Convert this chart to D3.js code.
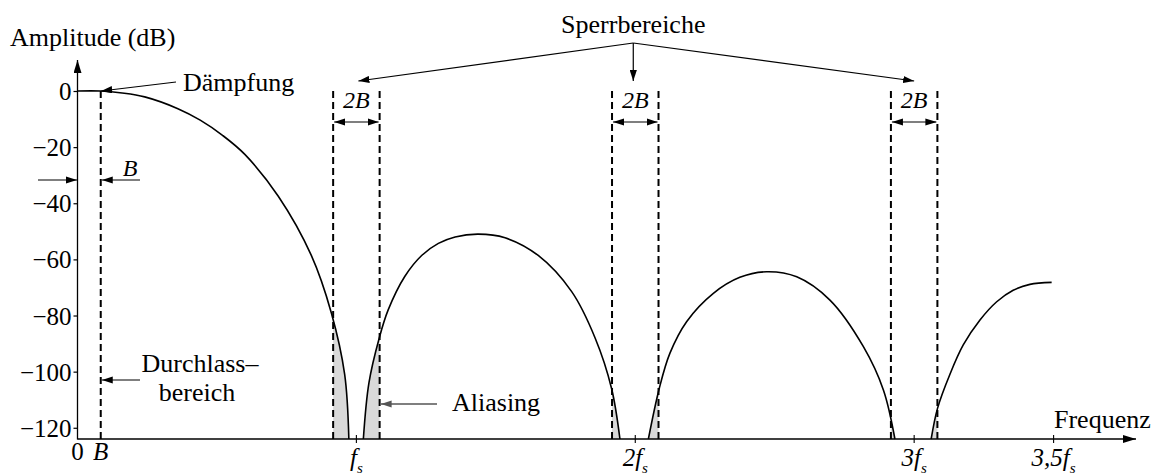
<!DOCTYPE html>
<html>
<head>
<meta charset="utf-8">
<script src="https://cdn.jsdelivr.net/npm/d3@7"></script>
<style>
  html, body { margin: 0; padding: 0; background: #fff; }
  svg { display: block; font-family: "Liberation Serif", "Times New Roman", serif; }
</style>
</head>
<body>
<svg id="chart" width="1159" height="476"></svg>
<script>
// Frequency is given in multiples of the sampling rate fs, amplitude in dB.
const bandwidth = 1 / 12;                 // B relative to fs
const stopCentres = [1, 2, 3];            // stop bands lie at k·fs ± B
const yTicks = [0, -20, -40, -60, -80, -100, -120];
const xTickValues = [0, bandwidth, 1, 2, 3, 3.5];
const xTickMain = ["0", "B", "f", "2f", "3f", "3,5f"];
const xTickSub = ["", "", "s", "s", "s", "s"];
const xTickItalic = [false, true, true, true, true, true];

// Filter magnitude response, one array per lobe: [f / fs, dB]
const lobePass = [[0, 0], [0.0833, 0], [0.16, -0.7], [0.241, -2.1], [0.36, -6.3], [0.44, -10.4],
  [0.52, -15.8], [0.6, -22.6], [0.72, -37.5], [0.838, -58.5], [0.91, -79], [0.958, -101], [0.973, -124]];
const lobeSecond = [[1.025, -124], [1.045, -104], [1.082, -88], [1.114, -78], [1.174, -66], [1.234, -58.6],
  [1.294, -54.3], [1.354, -52], [1.437, -51], [1.533, -52.3], [1.652, -58.6], [1.772, -71.5],
  [1.856, -88], [1.915, -106], [1.945, -124]];
const lobeThird = [[2.047, -124], [2.086, -106], [2.124, -93.5], [2.184, -82.2], [2.28, -72.1],
  [2.375, -66.4], [2.471, -64.4], [2.579, -66.2], [2.698, -74.5], [2.818, -91.1], [2.89, -106.6],
  [2.931, -124]];
const lobeFourth = [[3.061, -124], [3.084, -113], [3.128, -101], [3.176, -90.5], [3.236, -81.6],
  [3.296, -75.1], [3.355, -71], [3.415, -68.9], [3.493, -68.2]];
const lobes = [lobePass, lobeSecond, lobeThird, lobeFourth];

const svg = d3.select("#chart");
const floorDb = -124;
const x = d3.scaleLinear().domain([0, 3.5]).range([77.5, 1053.6]);
const y = d3.scaleLinear().domain([floorDb, 0]).range([439, 91]);
const x0 = x(0), yBase = y(floorDb);
const smooth = d3.curveCatmullRom.alpha(0.5);

// arrowheads
const defs = svg.append("defs");
function marker(id, len, half, color) {
  defs.append("marker")
    .attr("id", id).attr("markerUnits", "userSpaceOnUse")
    .attr("viewBox", `${-len} ${-half} ${len} ${half * 2}`)
    .attr("markerWidth", len).attr("markerHeight", half * 2)
    .attr("refX", 0).attr("refY", 0).attr("orient", "auto-start-reverse")
    .append("path").attr("d", `M0,0L${-len},${-half}L${-len},${half}Z`).attr("fill", color);
}
marker("axisHead", 13, 4, "#000");
marker("head", 11, 3.6, "#000");
marker("greyHead", 11, 3.6, "#555");

// aliasing shading: area under each lobe, clipped to the stop bands
stopCentres.forEach((k, i) => {
  defs.append("clipPath").attr("id", "band" + i)
    .append("rect")
    .attr("x", x(k - bandwidth)).attr("y", 0)
    .attr("width", x(k + bandwidth) - x(k - bandwidth)).attr("height", yBase);
});
const area = d3.area().x(d => x(d[0])).y0(yBase).y1(d => y(d[1])).curve(smooth);
stopCentres.forEach((k, i) => {
  svg.append("g").attr("clip-path", `url(#band${i})`)
    .selectAll("path").data(lobes).join("path")
    .attr("d", area).attr("fill", "#d9d9d9");
});

// y axis
const yAxis = svg.append("g").attr("transform", `translate(${x0},0)`)
  .call(d3.axisLeft(y).tickValues(yTicks).tickSize(4).tickPadding(2)
    .tickFormat(d => d === 0 ? "0" : "\u2212" + Math.abs(d)));
yAxis.select(".domain").remove();
yAxis.selectAll(".tick line").attr("stroke", "#000").attr("stroke-width", 1.2);
yAxis.selectAll(".tick text").attr("font-size", 25).attr("fill", "#000")
  .attr("font-family", "Liberation Serif, serif").attr("dy", "0.34em");
svg.append("line").attr("x1", x0).attr("y1", yBase + 0.6).attr("x2", x0).attr("y2", 60)
  .attr("stroke", "#000").attr("stroke-width", 1.3).attr("marker-end", "url(#axisHead)");

// x axis
svg.append("line").attr("x1", x0).attr("y1", yBase).attr("x2", 1136).attr("y2", yBase)
  .attr("stroke", "#000").attr("stroke-width", 1.3).attr("marker-end", "url(#axisHead)");
const xt = svg.append("g").selectAll("g").data(xTickValues).join("g")
  .attr("transform", d => `translate(${x(d)},${yBase})`);
xt.filter(d => d >= 1).append("line")
  .attr("y1", -4).attr("y2", 4).attr("stroke", "#000").attr("stroke-width", 1.1);
const xtText = xt.append("text").attr("text-anchor", "middle").attr("y", 21).attr("font-size", 25);
xtText.append("tspan").text((d, i) => xTickMain[i])
  .attr("font-style", (d, i) => xTickItalic[i] ? "italic" : "normal");
xtText.filter((d, i) => xTickSub[i] !== "").append("tspan")
  .text((d, i) => "s").attr("font-style", "italic").attr("font-size", 15).attr("dy", 7);
xtText.filter(d => d >= 1).attr("y", 27);

svg.append("text").attr("x", 1054).attr("y", 428).attr("font-size", 26).text("Frequenz");
svg.append("text").attr("x", 10).attr("y", 46).attr("font-size", 26).text("Amplitude (dB)");

// response curve
const line = d3.line().x(d => x(d[0])).y(d => y(d[1])).curve(smooth);
svg.append("g").selectAll("path").data(lobes).join("path")
  .attr("d", line).attr("fill", "none").attr("stroke", "#000").attr("stroke-width", 1.6);

// passband and stop band edges
const dash = "7,4";
svg.append("line").attr("x1", x(bandwidth)).attr("x2", x(bandwidth))
  .attr("y1", y(0)).attr("y2", yBase + 4)
  .attr("stroke", "#000").attr("stroke-width", 2).attr("stroke-dasharray", dash);
const bands = svg.append("g").selectAll("g").data(stopCentres).join("g");
[-1, 1].forEach(side => {
  bands.append("line")
    .attr("x1", k => x(k + side * bandwidth)).attr("x2", k => x(k + side * bandwidth))
    .attr("y1", y(0)).attr("y2", yBase)
    .attr("stroke", "#000").attr("stroke-width", 2).attr("stroke-dasharray", dash);
});
bands.append("line")
  .attr("x1", k => x(k - bandwidth) + 1).attr("x2", k => x(k + bandwidth) - 1)
  .attr("y1", 122).attr("y2", 122)
  .attr("stroke", "#000").attr("stroke-width", 1.2)
  .attr("marker-start", "url(#head)").attr("marker-end", "url(#head)");
bands.append("text").attr("x", k => x(k)).attr("y", 108)
  .attr("text-anchor", "middle").attr("font-size", 24).attr("font-style", "italic").text("2B");

// "Sperrbereiche" pointer
const apex = [x(2) - 2, 43];
svg.append("text").attr("x", apex[0]).attr("y", 33).attr("text-anchor", "middle")
  .attr("font-size", 26).text("Sperrbereiche");
stopCentres.forEach(k => {
  svg.append("line").attr("x1", apex[0]).attr("y1", apex[1])
    .attr("x2", x(k) + (k === 2 ? -2 : k === 1 ? 2 : 0)).attr("y2", 81)
    .attr("stroke", "#000").attr("stroke-width", 1.2).attr("marker-end", "url(#head)");
});

// "Dämpfung"
svg.append("line").attr("x1", 176).attr("y1", 82).attr("x2", x(bandwidth) + 0.5).attr("y2", y(0))
  .attr("stroke", "#000").attr("stroke-width", 1.2).attr("marker-end", "url(#head)");
svg.append("text").attr("x", 183).attr("y", 91).attr("font-size", 26).text("Dämpfung");

// B between the axis and the band edge
svg.append("line").attr("x1", 38).attr("y1", 180).attr("x2", x0 - 0.5).attr("y2", 180)
  .attr("stroke", "#000").attr("stroke-width", 1.2).attr("marker-end", "url(#head)");
svg.append("line").attr("x1", 140).attr("y1", 180).attr("x2", x(bandwidth) + 1).attr("y2", 180)
  .attr("stroke", "#000").attr("stroke-width", 1.2).attr("marker-end", "url(#head)");
svg.append("text").attr("x", 130).attr("y", 176).attr("text-anchor", "middle")
  .attr("font-size", 24).attr("font-style", "italic").text("B");

// "Durchlassbereich"
svg.append("line").attr("x1", 140).attr("y1", 380).attr("x2", x(bandwidth) + 1).attr("y2", 380)
  .attr("stroke", "#000").attr("stroke-width", 1.2).attr("marker-end", "url(#head)");
const pass = svg.append("text").attr("text-anchor", "middle").attr("font-size", 26);
pass.append("tspan").attr("x", 200).attr("y", 372).text("Durchlass\u2013");
pass.append("tspan").attr("x", 197).attr("y", 401).text("bereich");

// "Aliasing"
svg.append("line").attr("x1", 437).attr("y1", 404).attr("x2", x(1 + bandwidth) + 1).attr("y2", 404)
  .attr("stroke", "#555").attr("stroke-width", 1.3).attr("marker-end", "url(#greyHead)");
svg.append("text").attr("x", 452).attr("y", 411).attr("font-size", 26).text("Aliasing");
</script>
</body>
</html>
